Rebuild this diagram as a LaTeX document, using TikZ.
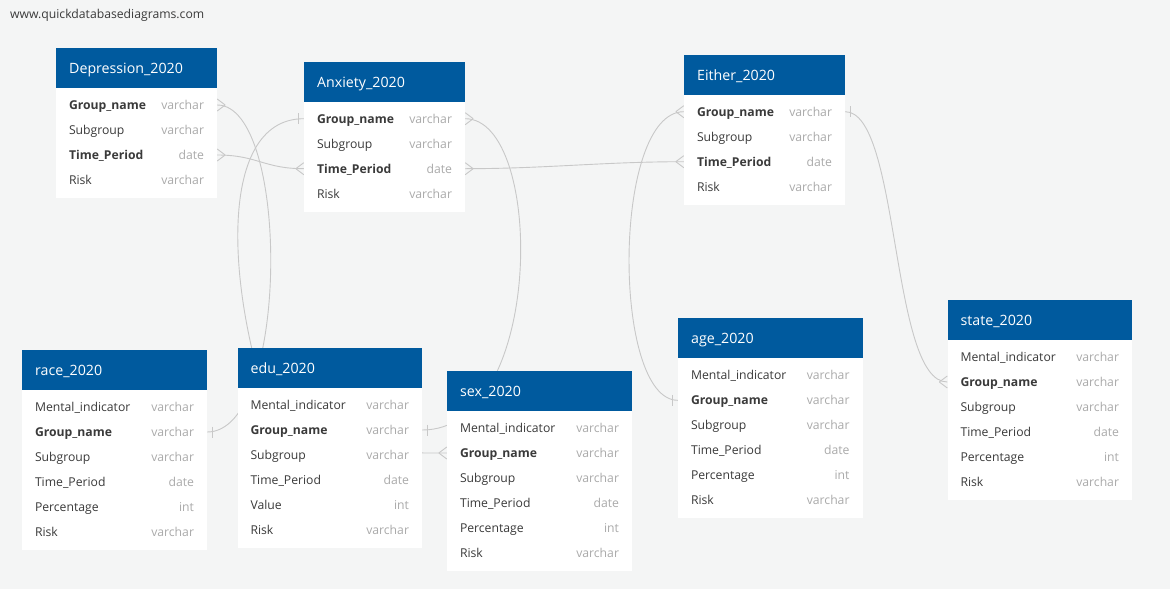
\documentclass[tikz,border=0pt]{standalone}
\usepackage{fontspec}
\setmainfont{Open Sans}
\usetikzlibrary{calc}

\definecolor{canvasgray}{HTML}{F4F5F5}
\definecolor{headblue}{HTML}{005A9E}
\definecolor{linkgray}{HTML}{C8C8C8}
\definecolor{namegray}{HTML}{3A3A3A}
\definecolor{typegray}{HTML}{AAAAAA}

\pgfdeclarelayer{canvas}
\pgfdeclarelayer{links}
\pgfsetlayers{canvas,links,main}

\tikzset{
  headtext/.style={anchor=base west, inner sep=0, text=white, font=\fontsize{14.2}{16}\selectfont},
  row/.style={minimum height=25, inner sep=0},
  fieldtext/.style={anchor=base west, inner sep=0, yshift=-4.6pt, text=namegray, font=\fontsize{12.2}{14}\selectfont},
  typetext/.style={anchor=base east, inner sep=0, yshift=-4.6pt, text=typegray, font=\fontsize{12.2}{14}\selectfont},
  link/.style={draw=linkgray, line width=0.9pt},
  many/.pic={\draw[link] (8,0) -- (0,-6) (8,0) -- (0,6);},
  one/.pic={\draw[link] (5,-5.5) -- (5,5.5);}
}

% id, left, top, width, rows, title, fields
\newcommand{\dbtable}[7]{%
  \fill[headblue] (#2,#3) rectangle ++(#4,40);
  \fill[white] (#2,#3+40) rectangle ++(#4,25*#5+10);
  \node[headtext] (#1) at (#2+13,#3+25.3) {#6};
  \foreach \f/\t [count=\i] in {#7} {
    \node[row, minimum width=#4] (#1-\i) at (#2+#4/2,#3+32+25*\i) {};
    \node[fieldtext] at ([xshift=13pt]#1-\i.west) {\f};
    \node[typetext] at ([xshift=-13pt]#1-\i.east) {\t};
  }
}

\begin{document}
\begin{tikzpicture}[x=1pt, y=-1pt]
  \useasboundingbox (0,0) rectangle (1170,589);
  \begin{pgfonlayer}{canvas}
    \fill[canvasgray] (0,0) rectangle (1170,589);
  \end{pgfonlayer}

  \node[anchor=base west, inner sep=0, text=namegray, font=\fontsize{12.2}{14}\selectfont] (site) at (10,19) {www.quickdatabasediagrams.com};

  % Tables
  \dbtable{dep}{56}{48}{161}{4}{Depression\_2020}{{\bfseries Group\_name}/varchar, Subgroup/varchar, {\bfseries Time\_Period}/date, Risk/varchar}
  \dbtable{anx}{304}{61.7}{161}{4}{Anxiety\_2020}{{\bfseries Group\_name}/varchar, Subgroup/varchar, {\bfseries Time\_Period}/date, Risk/varchar}
  \dbtable{eit}{684}{54.7}{161}{4}{Either\_2020}{{\bfseries Group\_name}/varchar, Subgroup/varchar, {\bfseries Time\_Period}/date, Risk/varchar}
  \dbtable{race}{22}{350}{185}{6}{race\_2020}{Mental\_indicator/varchar, {\bfseries Group\_name}/varchar, Subgroup/varchar, Time\_Period/date, Percentage/int, Risk/varchar}
  \dbtable{edu}{237.5}{348}{184.5}{6}{edu\_2020}{Mental\_indicator/varchar, {\bfseries Group\_name}/varchar, Subgroup/varchar, Time\_Period/date, Value/int, Risk/varchar}
  \dbtable{sex}{447}{371}{185}{6}{sex\_2020}{Mental\_indicator/varchar, {\bfseries Group\_name}/varchar, Subgroup/varchar, Time\_Period/date, Percentage/int, Risk/varchar}
  \dbtable{age}{678}{318.3}{184.5}{6}{age\_2020}{Mental\_indicator/varchar, {\bfseries Group\_name}/varchar, Subgroup/varchar, Time\_Period/date, Percentage/int, Risk/varchar}
  \dbtable{state}{947.5}{300}{184.5}{6}{state\_2020}{Mental\_indicator/varchar, {\bfseries Group\_name}/varchar, Subgroup/varchar, Time\_Period/date, Percentage/int, Risk/varchar}

  % Relations
  \begin{pgfonlayer}{links}
    \coordinate (edu-pass) at (280,440);
    \draw[link] (dep-1.east) .. controls +(73,0) and +(83,0) .. (race-2.east);
    \draw[link] (dep-3.east) .. controls +(40,0) and +(-40,0) .. (anx-3.west);
    \draw[link] (anx-1.west) .. controls +(-89,0) and +(-55,-140) .. (edu-pass) .. controls +(60,13) and +(-47,0) .. (sex-2.west);
    \draw[link] (anx-1.east) .. controls +(80,0) and +(123,0) .. (edu-2.east);
    \draw[link] (anx-3.east) .. controls +(80,0) and +(-80,0) .. (eit-3.west);
    \draw[link] (eit-1.west) .. controls +(-72,0) and +(-66,0) .. (age-2.west);
    \draw[link] (eit-1.east) .. controls +(55,0) and +(-57,0) .. (state-2.west);

    % Ends
    \pic at (dep-1.east) {many};
    \pic at (dep-3.east) {many};
    \pic[xscale=-1] at (anx-1.west) {one};
    \pic at (anx-1.east) {many};
    \pic[xscale=-1] at (anx-3.west) {many};
    \pic at (anx-3.east) {many};
    \pic[xscale=-1] at (eit-1.west) {many};
    \pic at (eit-1.east) {one};
    \pic[xscale=-1] at (eit-3.west) {many};
    \pic at (race-2.east) {one};
    \pic at (edu-2.east) {one};
    \pic[xscale=-1] at (sex-2.west) {many};
    \pic[xscale=-1] at (age-2.west) {one};
    \pic[xscale=-1] at (state-2.west) {many};
  \end{pgfonlayer}
\end{tikzpicture}
\end{document}
